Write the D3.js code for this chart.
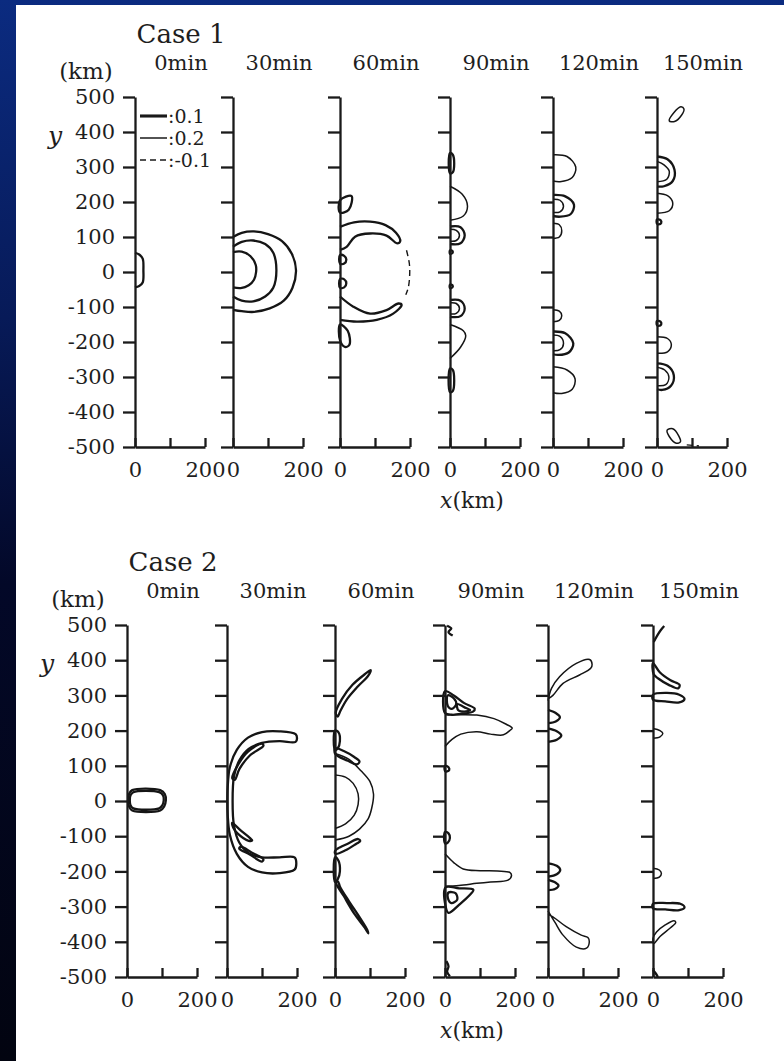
<!DOCTYPE html>
<html>
<head>
<meta charset="utf-8">
<script src="https://cdn.jsdelivr.net/npm/d3@7"></script>
<style>
  body { margin: 0; background: #000; }
  text { font-family: "DejaVu Serif", "Liberation Serif", serif; fill: #1e1e1e; }
</style>
</head>
<body>
<div id="fig"></div>
<script>
// ---- data (km) ----
const cases = ["Case 1", "Case 2"];
const minutes = ["0min", "30min", "60min", "90min", "120min", "150min"];
const yTicks = [500, 400, 300, 200, 100, 0, -100, -200, -300, -400, -500];
const xTicks = [0, 100, 200];
const legendLevels = [0.1, 0.2, -0.1];

// contour = {lv: level, closed, pts: [[x,y],...]}
const c1m0 = [
  {lv: 0.1, closed: false, pts: [[0,55],[12,50],[22,38],[24,5],[22,-30],[12,-40],[0,-44]]}
];
const c1m30 = [
  {lv: 0.1, closed: false, pts: [[0,100],[25,112],[60,116],[100,108],[140,88],[168,52],[180,5],[170,-45],[145,-82],[105,-104],[60,-114],[25,-112],[0,-108]]},
  {lv: 0.1, closed: false, pts: [[0,72],[25,86],[58,90],[92,80],[115,55],[124,5],[115,-45],[92,-70],[58,-84],[25,-82],[0,-70]]},
  {lv: 0.1, closed: false, pts: [[0,57],[25,58],[50,45],[65,20],[66,0],[60,-22],[45,-38],[22,-46],[0,-44]]}
];
const c1m60 = [
  {lv: 0.1, closed: false, pts: [[0,129],[40,142],[86,144],[130,134],[160,112],[172,88],[163,82],[133,104],[86,110],[43,101],[19,72],[0,63]]},
  {lv: -0.1, closed: false, pts: [[190,62],[198,25],[199,-10],[195,-45],[188,-65]]},
  {lv: 0.1, closed: false, pts: [[0,-70],[38,-99],[86,-119],[133,-109],[167,-90],[176,-94],[152,-119],[105,-137],[48,-142],[0,-137]]},
  {lv: 0.1, closed: true, pts: [[0,205],[33,217],[25,178],[0,170]]},
  {lv: 0.1, closed: true, pts: [[0,-150],[22,-168],[27,-208],[14,-214],[0,-195]]},
  {lv: 0.1, closed: true, pts: [[0,48],[12,46],[18,36],[12,24],[0,24]]},
  {lv: 0.1, closed: true, pts: [[0,-20],[12,-21],[18,-32],[12,-44],[0,-45]]}
];
const c1m90 = [
  {lv: 0.1, closed: true, pts: [[0,340],[8,335],[12,310],[8,285],[0,282]]},
  {lv: 0.2, closed: false, pts: [[0,245],[35,222],[50,188],[38,160],[0,148]]},
  {lv: 0.1, closed: false, pts: [[0,130],[30,128],[42,105],[30,82],[0,80]]},
  {lv: 0.2, closed: false, pts: [[0,122],[18,119],[27,105],[18,90],[0,88]]},
  {lv: 0.1, closed: true, pts: [[0,62],[7,60],[7,54],[0,52]]},
  {lv: 0.1, closed: true, pts: [[0,-36],[7,-38],[7,-44],[0,-46]]},
  {lv: 0.1, closed: false, pts: [[0,-80],[30,-82],[42,-104],[30,-126],[0,-128]]},
  {lv: 0.2, closed: false, pts: [[0,-88],[18,-90],[27,-104],[18,-118],[0,-120]]},
  {lv: 0.2, closed: false, pts: [[0,-150],[38,-168],[45,-182],[30,-215],[0,-247]]},
  {lv: 0.1, closed: true, pts: [[0,-276],[8,-280],[12,-310],[8,-340],[0,-343]]}
];
const c1m120 = [
  {lv: 0.2, closed: false, pts: [[0,335],[40,330],[65,300],[55,270],[20,258],[0,260]]},
  {lv: 0.1, closed: false, pts: [[0,220],[35,216],[60,192],[50,165],[20,158],[0,160]]},
  {lv: 0.2, closed: false, pts: [[0,208],[20,205],[30,188],[20,172],[0,170]]},
  {lv: 0.2, closed: false, pts: [[0,139],[18,135],[25,118],[18,100],[0,96]]},
  {lv: 0.2, closed: false, pts: [[0,-108],[18,-112],[25,-125],[18,-138],[0,-142]]},
  {lv: 0.1, closed: false, pts: [[0,-170],[35,-175],[58,-204],[45,-230],[15,-237],[0,-235]]},
  {lv: 0.2, closed: false, pts: [[0,-180],[20,-184],[30,-204],[20,-222],[0,-225]]},
  {lv: 0.2, closed: false, pts: [[0,-271],[40,-280],[63,-305],[55,-335],[25,-347],[0,-345]]}
];
const c1m150 = [
  {lv: 0.2, closed: true, pts: [[35,432],[48,455],[68,472],[77,466],[70,448],[50,430]]},
  {lv: 0.1, closed: false, pts: [[0,330],[30,322],[50,292],[45,260],[20,245],[0,244]]},
  {lv: 0.2, closed: false, pts: [[0,316],[20,306],[35,288],[28,265],[0,258]]},
  {lv: 0.2, closed: false, pts: [[0,225],[30,218],[45,197],[35,175],[0,168]]},
  {lv: 0.1, closed: true, pts: [[0,150],[10,148],[12,140],[5,136],[0,138]]},
  {lv: 0.1, closed: true, pts: [[0,-140],[10,-142],[12,-150],[5,-154],[0,-152]]},
  {lv: 0.2, closed: false, pts: [[0,-185],[30,-190],[41,-208],[30,-228],[0,-232]]},
  {lv: 0.1, closed: false, pts: [[0,-261],[30,-268],[48,-295],[40,-325],[15,-337],[0,-335]]},
  {lv: 0.2, closed: false, pts: [[0,-272],[22,-280],[34,-300],[25,-322],[0,-325]]},
  {lv: 0.2, closed: true, pts: [[29,-452],[45,-448],[62,-468],[67,-485],[55,-489],[35,-470]]},
  {lv: -0.1, closed: false, pts: [[85,-494],[120,-497]]}
];

const c2m0 = [
  {lv: 0.1, closed: true, pts: [[15,31],[95,31],[108,20],[111,2],[106,-16],[95,-27],[15,-27],[6,-16],[3,2],[6,20]]},
  {lv: 0.1, closed: true, pts: [[18,25],[92,25],[103,16],[105,2],[101,-12],[92,-21],[18,-21],[10,-12],[8,2],[10,16]]}
];
const c2m30 = [
  {lv: 0.1, closed: true, pts: [[196,190],[150,198],[100,196],[60,180],[28,145],[8,95],[2,40],[1,0],[2,-40],[8,-95],[28,-150],[60,-187],[100,-203],[150,-205],[193,-195],
    [198,-178],[193,-160],[150,-160],[100,-160],[62,-148],[35,-118],[20,-70],[16,0],[20,70],[35,115],[62,148],[100,165],[150,170],[196,168],[200,178]]},
  {lv: 0.1, closed: true, pts: [[15,65],[30,100],[60,140],[100,163],[104,157],[66,130],[36,92],[22,60]]},
  {lv: 0.1, closed: true, pts: [[15,-62],[35,-80],[65,-105],[72,-112],[62,-113],[30,-92],[18,-76]]},
  {lv: 0.1, closed: true, pts: [[35,-135],[65,-152],[100,-172],[104,-166],[70,-146],[40,-130]]}
];
const c2m60 = [
  {lv: 0.1, closed: true, pts: [[2,250],[20,290],[50,330],[85,360],[102,372],[95,356],[65,325],[35,290],[15,255],[8,240]]},
  {lv: 0.1, closed: true, pts: [[0,150],[25,142],[55,125],[70,112],[62,104],[35,115],[8,128],[0,135]]},
  {lv: 0.1, closed: true, pts: [[0,200],[10,195],[14,170],[8,150],[0,145]]},
  {lv: 0.2, closed: false, pts: [[0,135],[40,118],[75,85],[100,55],[110,20],[105,-20],[95,-50],[70,-80],[40,-100],[0,-111]]},
  {lv: 0.2, closed: false, pts: [[0,74],[30,68],[52,50],[66,20],[66,-10],[55,-40],[30,-65],[0,-78]]},
  {lv: 0.1, closed: true, pts: [[2,-150],[30,-140],[60,-122],[72,-114],[66,-108],[35,-122],[8,-135],[0,-142]]},
  {lv: 0.1, closed: true, pts: [[0,-160],[10,-170],[14,-200],[8,-222],[0,-230]]},
  {lv: 0.1, closed: true, pts: [[3,-232],[25,-270],[55,-320],[85,-360],[95,-376],[92,-366],[70,-330],[40,-285],[15,-245],[8,-228]]}
];
const c2m90 = [
  {lv: 0.1, closed: false, pts: [[6,498],[18,490],[10,480],[22,470]]},
  {lv: 0.1, closed: true, pts: [[0,312],[25,300],[55,278],[85,262],[80,254],[50,248],[20,245],[0,250]]},
  {lv: 0.1, closed: true, pts: [[8,300],[25,292],[32,275],[20,262],[8,270]]},
  {lv: 0.1, closed: true, pts: [[35,275],[60,264],[72,258],[55,254],[38,258]]},
  {lv: 0.2, closed: false, pts: [[0,245],[30,245],[91,244],[140,234],[175,218],[192,207],[185,200],[167,188],[130,190],[91,197],[45,190],[20,175],[0,155]]},
  {lv: 0.1, closed: true, pts: [[0,100],[10,96],[12,88],[6,84],[0,85]]},
  {lv: 0.1, closed: true, pts: [[0,-88],[10,-92],[14,-105],[8,-118],[0,-120]]},
  {lv: 0.2, closed: false, pts: [[0,-150],[25,-175],[52,-193],[100,-198],[150,-199],[185,-203],[190,-212],[180,-225],[130,-230],[91,-234],[40,-240],[0,-242]]},
  {lv: 0.1, closed: true, pts: [[2,-245],[40,-248],[81,-252],[70,-268],[40,-295],[10,-318],[2,-300]]},
  {lv: 0.1, closed: true, pts: [[10,-260],[30,-262],[35,-280],[18,-290],[8,-275]]},
  {lv: 0.1, closed: false, pts: [[4,-455],[10,-470],[6,-485],[14,-498]]}
];
const c2m120 = [
  {lv: 0.2, closed: false, pts: [[0,285],[10,320],[33,353],[81,391],[119,402],[126,388],[122,377],[90,358],[43,334],[14,300],[0,290]]},
  {lv: 0.1, closed: false, pts: [[0,259],[22,250],[34,238],[22,226],[0,221]]},
  {lv: 0.1, closed: false, pts: [[0,206],[25,198],[38,186],[25,174],[0,168]]},
  {lv: 0.1, closed: false, pts: [[0,-177],[25,-184],[35,-196],[25,-208],[0,-215]]},
  {lv: 0.1, closed: false, pts: [[0,-224],[22,-232],[30,-240],[20,-250],[0,-253]]},
  {lv: 0.2, closed: false, pts: [[0,-312],[20,-345],[43,-381],[81,-415],[110,-418],[118,-400],[114,-388],[95,-381],[52,-357],[14,-329],[0,-322]]}
];
const c2m150 = [
  {lv: 0.1, closed: false, pts: [[2,452],[12,470],[22,485],[32,497]]},
  {lv: 0.1, closed: true, pts: [[0,392],[20,365],[50,343],[76,330],[72,320],[45,330],[15,348],[2,360]]},
  {lv: 0.1, closed: true, pts: [[0,302],[40,307],[75,302],[90,290],[75,280],[35,283],[0,288]]},
  {lv: 0.2, closed: false, pts: [[0,206],[20,200],[28,192],[20,182],[0,178]]},
  {lv: 0.2, closed: false, pts: [[0,-191],[18,-196],[24,-206],[18,-216],[0,-220]]},
  {lv: 0.1, closed: true, pts: [[0,-292],[40,-290],[78,-292],[90,-302],[75,-310],[35,-308],[0,-305]]},
  {lv: 0.2, closed: true, pts: [[2,-405],[20,-385],[50,-360],[65,-345],[60,-340],[35,-352],[10,-372],[0,-390]]},
  {lv: 0.1, closed: false, pts: [[0,-480],[8,-490],[14,-500]]}
];

const contours = [
  [c1m0, c1m30, c1m60, c1m90, c1m120, c1m150],
  [c2m0, c2m30, c2m60, c2m90, c2m120, c2m150]
];

// ---- layout ----
const W = 784, H = 1061;
const layout = [
  {axes: [135, 233, 340, 450, 553, 657], yTop: 97, yBot: 447},
  {axes: [127, 227, 335, 445, 548, 653], yTop: 625, yBot: 977}
];
const pxPerKmX = 0.35;

function lvStyle(lv) {
  if (lv < 0) return {w: 1.4, dash: "6,4"};
  if (lv >= 0.2) return {w: 1.5, dash: null};
  return {w: 2.3, dash: null};
}

const svg = d3.select("#fig").append("svg").attr("width", W).attr("height", H);

// background
const grad = svg.append("defs").append("linearGradient")
  .attr("id", "bg").attr("x1", 0).attr("y1", 0).attr("x2", 0).attr("y2", 1);
grad.append("stop").attr("offset", "0").attr("stop-color", "#0b2b80");
grad.append("stop").attr("offset", "0.3").attr("stop-color", "#071a58");
grad.append("stop").attr("offset", "0.55").attr("stop-color", "#030828");
grad.append("stop").attr("offset", "1").attr("stop-color", "#020410");
svg.append("rect").attr("width", W).attr("height", H).attr("fill", "url(#bg)");
svg.append("rect").attr("x", 16).attr("y", 5).attr("width", W - 16).attr("height", H - 5).attr("fill", "#fff");

cases.forEach((cname, ci) => {
  const L = layout[ci];
  const y = d3.scaleLinear().domain([-500, 500]).range([L.yBot, L.yTop]);
  const ax0 = L.axes[0];

  svg.append("text").attr("x", ax0 + 46).attr("y", L.yTop - 54)
    .attr("text-anchor", "middle").style("font-size", "26px").text(cname);
  svg.append("text").attr("x", ax0 - 49).attr("y", L.yTop - 18)
    .attr("text-anchor", "middle").style("font-size", "23px").text("(km)");
  svg.append("text").attr("x", ax0 - 80).attr("y", L.yTop + 47)
    .attr("text-anchor", "middle").style("font-size", "25px").style("font-style", "italic").text("y");

  minutes.forEach((m, pi) => {
    const ax = L.axes[pi];
    const x = d3.scaleLinear().domain([0, 200]).range([ax, ax + 200 * pxPerKmX]);
    const g = svg.append("g");

    g.append("text").attr("x", ax + 46).attr("y", L.yTop - 27)
      .attr("text-anchor", "middle").style("font-size", "21px").text(m);

    // contours
    const lineOpen = d3.line().x(d => x(d[0])).y(d => y(d[1])).curve(d3.curveCatmullRom.alpha(0.5));
    const lineClosed = d3.line().x(d => x(d[0])).y(d => y(d[1])).curve(d3.curveCatmullRomClosed.alpha(0.5));
    contours[ci][pi].forEach(c => {
      const st = lvStyle(c.lv);
      g.append("path")
        .attr("d", (c.closed ? lineClosed : lineOpen)(c.pts))
        .attr("fill", "none").attr("stroke", "#151515")
        .attr("stroke-width", st.w).attr("stroke-dasharray", st.dash)
        .attr("stroke-linejoin", "round");
    });

    // y axis
    const yAxis = d3.axisLeft(y).tickValues(yTicks).tickSize(12).tickSizeOuter(0).tickPadding(8)
      .tickFormat(pi === 0 ? d => d : () => "");
    const ga = g.append("g").attr("transform", `translate(${ax},0)`).call(yAxis);
    ga.selectAll("path, line").attr("stroke", "#1a1a1a").attr("stroke-width", 2.3);
    ga.selectAll("text").style("font-family", "DejaVu Serif").style("font-size", "21px").attr("fill", "#262626");

    // x axis
    const xAxis = d3.axisBottom(x).tickValues(xTicks).tickSize(-9).tickSizeOuter(0).tickPadding(14)
      .tickFormat(d => d === 100 ? "" : d);
    const gx = g.append("g").attr("transform", `translate(0,${L.yBot})`).call(xAxis);
    gx.selectAll("path, line").attr("stroke", "#1a1a1a").attr("stroke-width", 2.3);
    gx.selectAll("text").style("font-family", "DejaVu Serif").style("font-size", "21px").attr("fill", "#262626")
      .attr("dy", "0.75em");

    // legend
    if (ci === 0 && pi === 0) {
      legendLevels.forEach((lv, k) => {
        const st = lvStyle(lv);
        const ly = L.yTop + 19 + k * 22;
        g.append("line").attr("x1", ax + 5).attr("x2", ax + 32).attr("y1", ly).attr("y2", ly)
          .attr("stroke", "#1a1a1a").attr("stroke-width", st.w + (k === 0 ? 0.8 : 0)).attr("stroke-dasharray", st.dash);
        g.append("text").attr("x", ax + 33).attr("y", ly + 7).style("font-size", "19px").text(":" + lv);
      });
    }
  });

  const xl = svg.append("text").attr("x", 472).attr("y", L.yBot + 61)
    .attr("text-anchor", "middle").style("font-size", "22px");
  xl.append("tspan").style("font-style", "italic").text("x");
  xl.append("tspan").text("(km)");
});
</script>
</body>
</html>
